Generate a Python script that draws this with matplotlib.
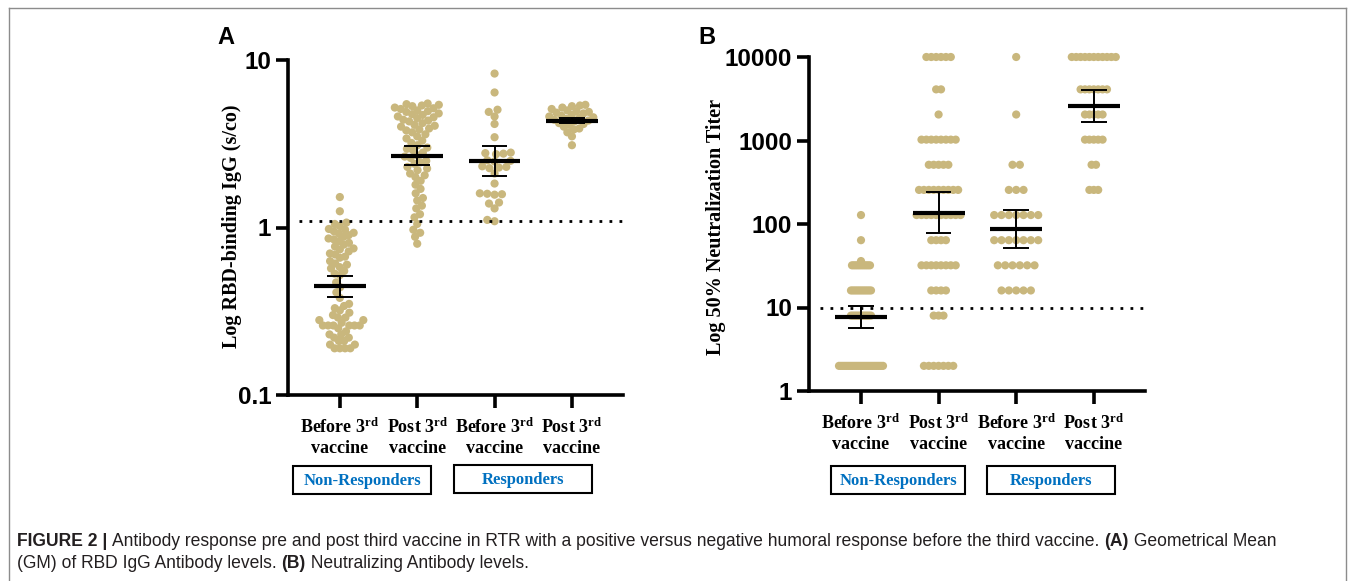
import numpy as np
import matplotlib
matplotlib.use("Agg")
import matplotlib.pyplot as plt
from matplotlib.lines import Line2D
from matplotlib.patches import Rectangle
from matplotlib.ticker import NullLocator
from matplotlib import font_manager

W, H, DPI = 1355, 581, 100

# ---------------- data ----------------
categories = ["Before 3$^{\\mathrm{rd}}$\nvaccine", "Post 3$^{\\mathrm{rd}}$\nvaccine",
              "Before 3$^{\\mathrm{rd}}$\nvaccine", "Post 3$^{\\mathrm{rd}}$\nvaccine"]
group_labels = ["Non-Responders", "Responders"]

# Panel A: RBD-binding IgG (s/co)
rbd_nr_before = [1.52, 1.25, 1.07, 1.05, 1.02, 0.98, 0.97, 0.95, 0.93, 0.92, 0.90, 0.88,
                 0.86, 0.85, 0.83, 0.81, 0.79, 0.77, 0.75, 0.74, 0.72, 0.70, 0.69, 0.67,
                 0.66, 0.63, 0.61, 0.60, 0.58, 0.57, 0.55, 0.53, 0.52, 0.47, 0.44, 0.41,
                 0.38, 0.35, 0.34, 0.33, 0.32, 0.31, 0.30, 0.29, 0.29, 0.28, 0.28, 0.27,
                 0.26, 0.26, 0.26, 0.26, 0.26, 0.26, 0.25, 0.24, 0.23, 0.23, 0.22, 0.22,
                 0.21, 0.21, 0.20, 0.20, 0.19, 0.19, 0.19, 0.19]
rbd_nr_post = [5.5, 5.45, 5.4, 5.35, 5.3, 5.2, 5.15, 5.1, 5.0, 4.95, 4.9, 4.8, 4.75, 4.7,
               4.6, 4.55, 4.5, 4.4, 4.35, 4.3, 4.2, 4.1, 4.05, 4.0, 3.9, 3.85, 3.8, 3.7,
               3.6, 3.5, 3.4, 3.3, 3.2, 3.1, 3.0, 2.95, 2.9, 2.8, 2.7, 2.65, 2.6, 2.5,
               2.45, 2.4, 2.3, 2.25, 2.2, 2.1, 2.05, 2.0, 1.9, 1.8, 1.7, 1.6, 1.5, 1.45,
               1.35, 1.3, 1.2, 1.15, 1.05, 0.97, 0.93, 0.88, 0.80]
rbd_r_before = [8.3, 6.4, 5.05, 4.9, 4.6, 4.15, 3.46, 2.80, 2.78, 2.76, 2.74, 2.52, 2.50,
                2.48, 2.32, 2.30, 2.28, 2.26, 2.1, 1.83, 1.60, 1.59, 1.58, 1.57, 1.41,
                1.39, 1.3, 1.11, 1.09]
rbd_r_post = [5.4, 5.35, 5.3, 5.2, 5.1, 5.0, 4.95, 4.9, 4.85, 4.8, 4.7, 4.65, 4.6, 4.55,
              4.5, 4.45, 4.4, 4.35, 4.3, 4.2, 4.15, 4.1, 4.0, 3.9, 3.85, 3.7, 3.5, 3.1]
rbd_gm = [0.446, 2.68, 2.50, 4.35]
rbd_ci_low = [0.387, 2.36, 2.04, 4.20]
rbd_ci_high = [0.512, 3.05, 3.05, 4.52]
rbd_cutoff = 1.1

# Panel B: 50% neutralization titer (titer level, number of subjects)
nt_nr_before_levels = [2, 8, 16, 32, 36, 64, 128]
nt_nr_before_counts = [23, 11, 11, 10, 1, 1, 1]
nt_nr_post_levels = [2, 8, 16, 32, 64, 128, 256, 512, 1024, 2048, 4096, 10000]
nt_nr_post_counts = [7, 3, 4, 8, 4, 10, 9, 5, 8, 1, 2, 6]
nt_r_before_levels = [16, 32, 64, 128, 256, 512, 2048, 10000]
nt_r_before_counts = [5, 6, 7, 7, 3, 2, 1, 1]
nt_r_post_levels = [256, 512, 1024, 2048, 4096, 10000]
nt_r_post_counts = [3, 2, 5, 5, 7, 11]
nt_gm = [7.8, 136, 86, 2610]
nt_ci_low = [5.7, 77, 51, 1650]
nt_ci_high = [10.4, 244, 146, 4030]
nt_cutoff = 10

# ---------------- style ----------------
DOT = "#C9B77D"
BLUE = "#0070C0"
names = {f.name for f in font_manager.fontManager.ttflist}
SERIF = "Liberation Serif"
SANS = "Liberation Sans"
CAPFONT = "Liberation Sans Narrow" if "Liberation Sans Narrow" in names else "Liberation Sans"

plt.rcParams["mathtext.fontset"] = "custom"
plt.rcParams["mathtext.rm"] = "Liberation Serif:bold"
plt.rcParams["mathtext.it"] = "Liberation Serif:bold"
plt.rcParams["mathtext.bf"] = "Liberation Serif:bold"

fig = plt.figure(figsize=(W / DPI, H / DPI), dpi=DPI)


def fx(x):
    return x / W


def fy(y):
    return 1 - y / H


def swarm_offsets(ypix, d):
    order = np.argsort(ypix)
    px_, py_ = [], []
    offs = np.zeros(len(ypix))
    for idx in order:
        y = ypix[idx]
        cands = [0.0]
        for a, b in zip(px_, py_):
            dy = abs(b - y)
            if dy < d:
                dx = np.sqrt(d * d - dy * dy)
                cands += [a - dx, a + dx]
        cands = sorted(cands, key=lambda c: (round(abs(c), 6), c * (1 if idx % 2 else -1)))
        for c in cands:
            if all((c - a) ** 2 + (y - b) ** 2 >= d * d - 1e-6 for a, b in zip(px_, py_)):
                offs[idx] = c
                break
        px_.append(offs[idx])
        py_.append(y)
    return offs


def setup_axes(rect, ylim, yticks, yticklabels):
    ax = fig.add_axes(rect)
    ax.set_yscale("log")
    ax.set_ylim(*ylim)
    ax.set_xlim(-0.67, 3.66)
    for s in ["top", "right"]:
        ax.spines[s].set_visible(False)
    for s in ["left", "bottom"]:
        ax.spines[s].set_linewidth(2.6)
    ax.set_yticks(yticks)
    ax.set_yticklabels(yticklabels, fontfamily=SANS, fontweight="bold", fontsize=17.5)
    ax.yaxis.set_minor_locator(NullLocator())
    ax.set_xticks(range(4))
    ax.set_xticklabels(categories, fontfamily=SERIF, fontweight="bold", fontsize=13,
                       linespacing=1.25)
    ax.tick_params(axis="both", which="major", direction="out", length=9, width=2.6)
    ax.tick_params(axis="y", pad=3)
    ax.tick_params(axis="x", pad=7)
    ax.patch.set_alpha(0)
    return ax


def px_per_unit(ax):
    p0 = ax.transData.transform((0, 1))
    p1 = ax.transData.transform((1, 1))
    return p1[0] - p0[0]


def draw_stats(ax, gm, lo, hi, cutoff):
    for i in range(4):
        ax.hlines(gm[i], i - 0.335, i + 0.335, color="black", lw=3.0, zorder=5)
        ax.vlines(i, lo[i], hi[i], color="black", lw=1.4, zorder=5)
        ax.hlines([lo[i], hi[i]], i - 0.165, i + 0.165, color="black", lw=1.4, zorder=5)
    ax.plot([-0.53, 3.66], [cutoff, cutoff], color="black", lw=2.0,
            linestyle=(0, (1, 2.6)), zorder=4, clip_on=False)


D = 7.4       # collision distance in px
MS = 5.9      # marker diameter in points
DOTPX = 8.0
MAXW = 52.0   # maximum column width in px

# ---------------- Panel A ----------------
axA = setup_axes([fx(288), fy(395), (623 - 288) / W, (395 - 60) / H], (0.1, 10),
                 [0.1, 1, 10], ["0.1", "1", "10"])
ppu = px_per_unit(axA)
for i, vals in enumerate([rbd_nr_before, rbd_nr_post, rbd_r_before, rbd_r_post]):
    vals = np.array(vals, dtype=float)
    ypix = axA.transData.transform(np.column_stack([np.zeros_like(vals), vals]))[:, 1]
    offs = swarm_offsets(ypix, D)
    width = offs.max() - offs.min() + DOTPX
    if width > MAXW:
        offs = offs * (MAXW - DOTPX) / (width - DOTPX)
    axA.scatter(i + offs / ppu, vals, s=MS ** 2, color=DOT, edgecolors="none", zorder=3,
                clip_on=False)
draw_stats(axA, rbd_gm, rbd_ci_low, rbd_ci_high, rbd_cutoff)

# ---------------- Panel B ----------------
axB = setup_axes([fx(809), fy(391), (1145 - 809) / W, (391 - 57) / H], (1, 10000),
                 [1, 10, 100, 1000, 10000], ["1", "10", "100", "1000", "10000"])
ppu = px_per_unit(axB)
for i, (lev, cnt) in enumerate([(nt_nr_before_levels, nt_nr_before_counts),
                                (nt_nr_post_levels, nt_nr_post_counts),
                                (nt_r_before_levels, nt_r_before_counts),
                                (nt_r_post_levels, nt_r_post_counts)]):
    nmax = max(cnt)
    sp = D if nmax <= 1 else min(D, (MAXW - DOTPX) / (nmax - 1))
    xs, ys = [], []
    for v, n in zip(lev, cnt):
        for k in range(n):
            xs.append(i + (k - (n - 1) / 2) * sp / ppu)
            ys.append(v)
    axB.scatter(xs, ys, s=MS ** 2, color=DOT, edgecolors="none", zorder=3, clip_on=False)
draw_stats(axB, nt_gm, nt_ci_low, nt_ci_high, nt_cutoff)

# ---------------- labels, boxes ----------------
fig.text(fx(232), fy(226), "Log RBD-binding IgG (s/co)", rotation=90, ha="center",
         va="center", fontfamily=SERIF, fontweight="bold", fontsize=14.5)
fig.text(fx(716), fy(227), "Log 50% Neutralization Titer", rotation=90, ha="center",
         va="center", fontfamily=SERIF, fontweight="bold", fontsize=14.5)
fig.text(fx(226), fy(37), "A", ha="center", va="center", fontfamily=SANS,
         fontweight="bold", fontsize=17)
fig.text(fx(707), fy(37), "B", ha="center", va="center", fontfamily=SANS,
         fontweight="bold", fontsize=17)

boxes = [((293, 466, 431, 494), group_labels[0]), ((454, 465, 592, 493), group_labels[1]),
         ((831, 466, 965, 494), group_labels[0]), ((987, 466, 1115, 494), group_labels[1])]
for (x0, y0, x1, y1), lab in boxes:
    fig.add_artist(Rectangle((fx(x0), fy(y1)), (x1 - x0) / W, (y1 - y0) / H,
                             transform=fig.transFigure, fill=False, lw=1.5,
                             edgecolor="black"))
    fig.text(fx((x0 + x1) / 2), fy((y0 + y1) / 2 + 1), lab, ha="center", va="center",
             color=BLUE, fontfamily=SERIF, fontweight="bold", fontsize=12)

# frame
for (xa, ya, xb, yb) in [(9, 8, 9, 581), (9, 8, 1346, 8), (1346, 8, 1346, 581)]:
    fig.add_artist(Line2D([fx(xa), fx(xb)], [fy(ya), fy(yb)], transform=fig.transFigure,
                          color="#8c8c8c", lw=1.0))

# ---------------- caption ----------------
renderer = fig.canvas.get_renderer()
line1 = [("FIGURE 2 | ", "bold"),
         ("Antibody response pre and post third vaccine in RTR with a positive versus "
          "negative humoral response before the third vaccine. ", "normal"),
         ("(A)", "bold"), (" Geometrical Mean", "normal")]
line2 = [("(GM) of RBD IgG Antibody levels. ", "normal"), ("(B)", "bold"),
         (" Neutralizing Antibody levels.", "normal")]


def measure(pieces, size):
    tot = 0
    for txt, wt in pieces:
        t = fig.text(0, 0, txt, fontfamily=CAPFONT, fontweight=wt, fontsize=size)
        tot += t.get_window_extent(renderer).width
        t.remove()
    return tot


size = 10.0
size = size * (1282 - 17) / measure(line1, size)


def draw_line(pieces, x, y, size):
    for txt, wt in pieces:
        t = fig.text(fx(x), fy(y), txt, fontfamily=CAPFONT, fontweight=wt, fontsize=size,
                     va="center", ha="left", color="#231F20")
        x += t.get_window_extent(renderer).width


draw_line(line1, 17, 541, size)
draw_line(line2, 17, 563, size)

fig.savefig("out.png", dpi=DPI)
